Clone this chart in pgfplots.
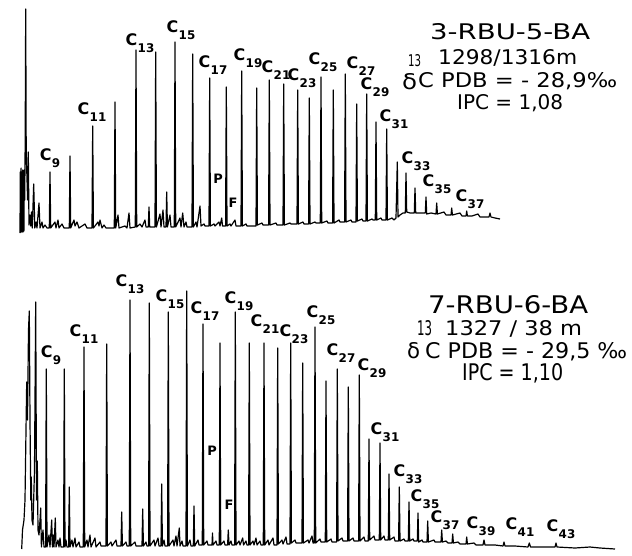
\documentclass[border=0pt]{standalone}
\usepackage{fontspec}
\setmainfont{DejaVu Sans}
\usepackage{graphicx}
\usepackage{pgfplots}
\usepackage{pgfplotstable}
\pgfplotsset{compat=1.18}

% Top chromatogram: 3-RBU-5-BA (x = retention position, y = signal, image units, downward)
\pgfplotstableread{
x y
20 233
20.3 172
20.7 232
21.1 168
21.5 232
21.9 172
22.3 232
22.7 170
23.1 232
23.5 172
23.9 231
24.3 170
24.7 200
25.2 140
25.7 9
26.2 150
26.8 172
27.6 200
28.3 152
29 225
30 215
30.8 226
31.5 212
32.3 228
33.7 184
34.8 228
36 222
37 228
39 203
40 228
42 222
43 228
45 225
47 228
49.3 228
50 172
50.7 228
55 222
56 228
58 220
59 228
62 224
64 228
69.3 228
70 156
70.7 228
74 220
75 226
77 222
79 228
85 224
87 228
92 228
92.7 126
93.4 228
98 222
99 226
100 220
102 228
104 225
106 228
114.3 228
115 102
115.7 228
118 215
119 228
125 226
127 228
129 213
130 228
135.3 227
136 50
136.7 227
140 224
142 227
145 220
146 227
148.3 227
149 207
149.7 227
155 227
155.7 52
156.4 227
160 214
161 227
163 210
164 227
166 227
166.7 192
167.4 227
170 215
171 227
174.3 227
175 42
175.7 227
180 218
181 227
182.7 213
184 227
186 222
187 227
192 227
192.7 54
193.4 227
196 222
197 227
200 206
201 226
204 224
205 226
209 226
209.7 78
210.4 226
214 224
215 226
219 222
220 226
221.7 218
222.5 226
225.6 226
226.3 87
227 226
230 224
231 226
235 220
236 226
241 226
241.7 71
242.4 226
246 224
247 226
256 226
256.7 88
257.4 225
262 223
263 225
268.6 225
269.3 80
270 225
276 223
277 225
283 225
283.7 84
284.4 225
290 223
291 224
297 224
297.7 90
298.4 224
303 222
304 224
308.6 224
309.3 98
310 224
315 222
316 223
320.3 223
321 77
321.7 223
327 221
328 223
332.6 223
333.3 90
334 223
339 220
340 222
344.6 222
345.3 74
346 222
351 220
352 222
356 222
356.7 104
357.4 221
362 219
363 221
366 221
366.7 94
367.4 221
372 219
373 220
375.3 220
376 122
376.7 220
381 218
382 220
386 220
386.7 129
387.4 220
392 218
394 220
396 218
397.3 162
398 217
400 215
403 213
405.3 213
406 173
406.7 212
410 213
414.3 213
415 188
415.7 213
420 213
425.3 213
426 197
426.7 214
431 213
436 214
436.7 203
437.4 214
444 212
446 215
451 215
451.7 208
452.4 215
460 213
462 216
466 216
466.7 211
467.4 216
472 216
478 214
480 217
489 217
490 213
491 217
495 218
500 219
}\topdata

% Bottom chromatogram: 7-RBU-6-BA
\pgfplotstableread{
x y
21.7 549
22.5 530
24 520
25 500
26 430
26.7 382
27.5 420
28.5 330
29.3 311
30 420
30.8 500
31.3 477
32 520
33 525
34.5 470
35.7 302
36.5 500
37.3 461
38 530
39 535
40 520
40.7 508
41.4 547
43 530
44 547
45.6 547
46.3 369
47 547
49 535
50 547
51.7 520
52.4 547
53 535
54 547
55.3 518
56 547
58 540
59 547
60 538
61 547
63.6 547
64.3 369
65 547
66 540
67 547
68.6 547
69.3 487
70 547
72 540
73 547
75 538
76 547
79 542
80 547
83.3 547
84 347
84.7 547
87 540
88 547
90 535
91 547
95 538
96 547
100 542
101 546
106 546
106.7 344
107.4 546
111 542
112 546
116 540
117 546
121 546
121.7 512
122.4 546
126 542
127 546
129.3 546
130 300
130.7 546
135 542
136 546
142 546
142.7 509
143.4 546
146 542
147 546
148.6 546
149.3 303
150 546
154 540
155 546
158 538
159 546
161 546
161.7 484
162.4 546
164 540
165 546
167.6 546
168.3 312
169 546
173 540
174 546
176 536
177 546
179.3 528
180 546
182 541
183 546
186 546
186.7 291
187.4 546
190 540
191 546
193.3 546
194 506
194.7 546
198 540
199 545
202.3 545
203 324
203.7 545
207 541
208 545
212 545
212.5 533
213 545
216 541
217 545
219.3 545
220 343
220.7 545
224 541
225 545
227.6 545
228.3 530
229 545
231 541
232 545
234.6 545
235.3 312
236 545
239 541
240 545
242.7 538
243.5 545
246 541
247 545
248.6 545
249.3 343
250 545
253 541
254 545
256 538
257 545
260 541
261 545
263.3 545
264 343
264.7 545
268 540
269 545
273 538
274 545
277 545
277.7 348
278.4 544
282 540
283 544
286 537
287 544
290 544
290.7 343
291.4 543
295 540
296 543
302 543
302.7 363
303.4 543
308 540
309 543
312 536
313 543
314.3 543
315 327
315.7 543
320 539
321 542
325.3 542
326 381
326.7 542
331 539
332 542
336.6 542
337.3 369
338 541
342 538
343 541
347.6 541
348.3 387
349 541
353 538
354 541
358.6 541
359.3 375
360 541
364 537
365 541
368.3 541
369 439
369.7 540
374 536
375 540
379.3 540
380 443
380.7 540
384 536
385 540
388.3 540
389 474
389.7 540
394 537
395 541
398.6 541
399.3 487
400 541
404 539
405 541
408.3 541
409 502
409.7 541
413 539
414 541
417.3 541
418 513
418.7 542
422 540
423 542
427 542
427.7 521
428.4 542
434 540
435 542
441 542
441.7 530
442.4 542
446 541
448 543
452 543
452.7 534
453.4 543
458 542
460 544
466 544
466.7 537
467.4 544
474 543
476 545
483 545
484 540
485 545
495 545
503 546
504 542
505 546
515 546
528 547
529.3 543
530.5 547
545 547
555 547
556 543
557 547
575 548
590 547
600 548
615 549
}\botdata

\newcommand{\Cl}[1]{{\fontsize{16}{16}\selectfont\bfseries C\kern0.3pt\raisebox{-0.42em}{\fontsize{12}{12}\selectfont\bfseries #1}}}
\newcommand{\PF}[1]{{\fontsize{13}{13}\selectfont\bfseries #1}}

\begin{document}
\begin{tikzpicture}
\begin{axis}[
  width=632bp, height=556bp, scale only axis,
  xmin=0, xmax=632, ymin=0, ymax=556, y dir=reverse,
  hide axis, clip=false,
]
\path (axis cs:0,0) rectangle (axis cs:632,556);
\addplot[black, line width=1.2pt, line join=round, mark=none] table[x=x,y=y] {\topdata};
\addplot[black, line width=1.2pt, line join=round, mark=none] table[x=x,y=y] {\botdata};

% ---- top labels
\node at (axis cs:50,158) {\Cl{9}};
\node at (axis cs:92,112) {\Cl{11}};
\node at (axis cs:140,43) {\Cl{13}};
\node at (axis cs:181,30) {\Cl{15}};
\node at (axis cs:213,65) {\Cl{17}};
\node at (axis cs:248,58) {\Cl{19}};
\node at (axis cs:276,70) {\Cl{21}};
\node at (axis cs:302,78) {\Cl{23}};
\node at (axis cs:323,62) {\Cl{25}};
\node at (axis cs:361,66) {\Cl{27}};
\node at (axis cs:375,87) {\Cl{29}};
\node at (axis cs:394,119) {\Cl{31}};
\node at (axis cs:416,161) {\Cl{33}};
\node at (axis cs:437,184) {\Cl{35}};
\node at (axis cs:470,199) {\Cl{37}};
\node at (axis cs:218,179) {\PF{P}};
\node at (axis cs:233,203) {\PF{F}};

\node[anchor=base west, inner sep=0] at (axis cs:430,40) {\resizebox{160bp}{16bp}{3-RBU-5-BA}};
\node[anchor=base west, inner sep=0] at (axis cs:408,67) {\resizebox{13bp}{12bp}{13}};
\node[anchor=base west, inner sep=0] at (axis cs:438,65) {\resizebox{139bp}{15bp}{1298/1316m}};
\node[anchor=base west, inner sep=0] at (axis cs:402,90) {\resizebox{15bp}{16bp}{δ}};
\node[anchor=base west, inner sep=0] at (axis cs:418,88) {\resizebox{199bp}{15bp}{C PDB = - 28,9‰}};
\node[anchor=base west, inner sep=0] at (axis cs:457,110) {\resizebox{106bp}{15bp}{IPC = 1,08}};

% ---- bottom labels
\node at (axis cs:51,355) {\Cl{9}};
\node at (axis cs:84,334) {\Cl{11}};
\node at (axis cs:130,284) {\Cl{13}};
\node at (axis cs:170,299) {\Cl{15}};
\node at (axis cs:205,311) {\Cl{17}};
\node at (axis cs:239,301) {\Cl{19}};
\node at (axis cs:265,324) {\Cl{21}};
\node at (axis cs:294,334) {\Cl{23}};
\node at (axis cs:321,315) {\Cl{25}};
\node at (axis cs:341,353) {\Cl{27}};
\node at (axis cs:372,368) {\Cl{29}};
\node at (axis cs:385,432) {\Cl{31}};
\node at (axis cs:408,474) {\Cl{33}};
\node at (axis cs:425,499) {\Cl{35}};
\node at (axis cs:445,520) {\Cl{37}};
\node at (axis cs:481,526) {\Cl{39}};
\node at (axis cs:520,527) {\Cl{41}};
\node at (axis cs:561,529) {\Cl{43}};
\node at (axis cs:212,451) {\PF{P}};
\node at (axis cs:229,505) {\PF{F}};

\node[anchor=base west, inner sep=0] at (axis cs:428,313) {\resizebox{160bp}{18bp}{7-RBU-6-BA}};
\node[anchor=base west, inner sep=0] at (axis cs:417,335) {\resizebox{15bp}{15bp}{13}};
\node[anchor=base west, inner sep=0] at (axis cs:445,335) {\resizebox{137bp}{15bp}{1327 / 38 m}};
\node[anchor=base west, inner sep=0] at (axis cs:407,358) {\resizebox{13bp}{16bp}{δ}};
\node[anchor=base west, inner sep=0] at (axis cs:425,358) {\resizebox{202bp}{16bp}{C PDB = - 29,5 ‰}};
\node[anchor=base west, inner sep=0] at (axis cs:462,380) {\resizebox{101bp}{17bp}{IPC = 1,10}};
\end{axis}
\end{tikzpicture}
\end{document}
